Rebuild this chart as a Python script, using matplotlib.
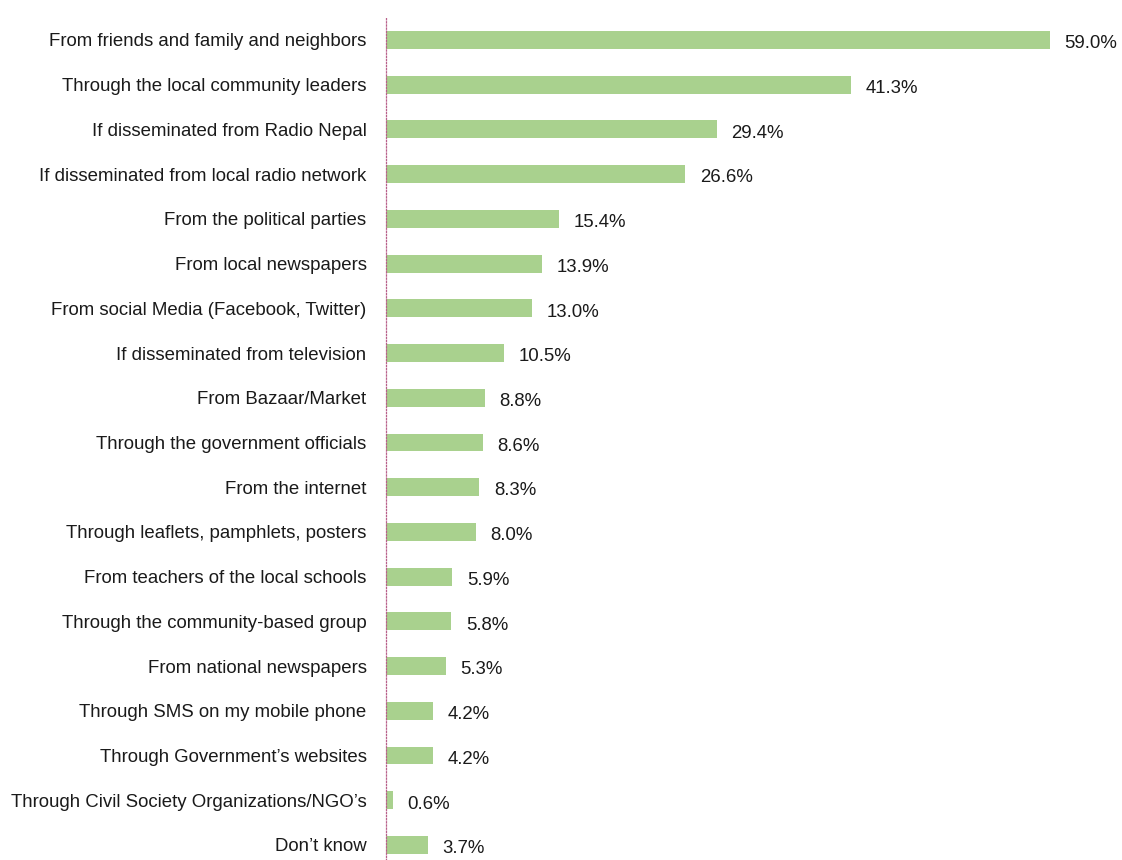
import matplotlib.pyplot as plt
import numpy as np

categories = [
    "From friends and family and neighbors",
    "Through the local community leaders",
    "If disseminated from Radio Nepal",
    "If disseminated from local radio network",
    "From the political parties",
    "From local newspapers",
    "From social Media (Facebook, Twitter)",
    "If disseminated from television",
    "From Bazaar/Market",
    "Through the government officials",
    "From the internet",
    "Through leaflets, pamphlets, posters",
    "From teachers of the local schools",
    "Through the community-based group",
    "From national newspapers",
    "Through SMS on my mobile phone",
    "Through Government\u2019s websites",
    "Through Civil Society Organizations/NGO\u2019s",
    "Don\u2019t know",
]
values = [59.0, 41.3, 29.4, 26.6, 15.4, 13.9, 13.0, 10.5, 8.8, 8.6,
          8.3, 8.0, 5.9, 5.8, 5.3, 4.2, 4.2, 0.6, 3.7]

plt.rcParams['font.family'] = ['Liberation Sans', 'DejaVu Sans']

W, H = 1122, 860
fig = plt.figure(figsize=(W / 100, H / 100), dpi=100)
left = 386 / W
top = 17.6 / H
ax = fig.add_axes([left, 0, 1 - left, 1 - top])

y = np.arange(len(categories))
ax.barh(y, values, height=0.4, color='#a9d18e', edgecolor='none')

ax.set_xlim(0, (W - 386) / 11.25)
ax.set_ylim((H - 40) / 44.72, -0.5)

for yi, v in zip(y, values):
    ax.text(v + 1.3, yi + 0.04, f"{v:.1f}%", va='center_baseline', ha='left',
            fontsize=13.4, color='#1a1a1a')

ax.set_yticks(y)
ax.set_yticklabels(categories, fontsize=13.4, color='#1a1a1a',
                   va='center_baseline')
ax.tick_params(axis='y', length=0, pad=14)
ax.set_xticks([])
for s in ['top', 'right', 'bottom']:
    ax.spines[s].set_visible(False)
ax.spines['left'].set_color('#b8608a')
ax.spines['left'].set_linestyle((0, (1, 1.5)))
ax.spines['left'].set_linewidth(0.9)

fig.savefig('out.png', dpi=100)
